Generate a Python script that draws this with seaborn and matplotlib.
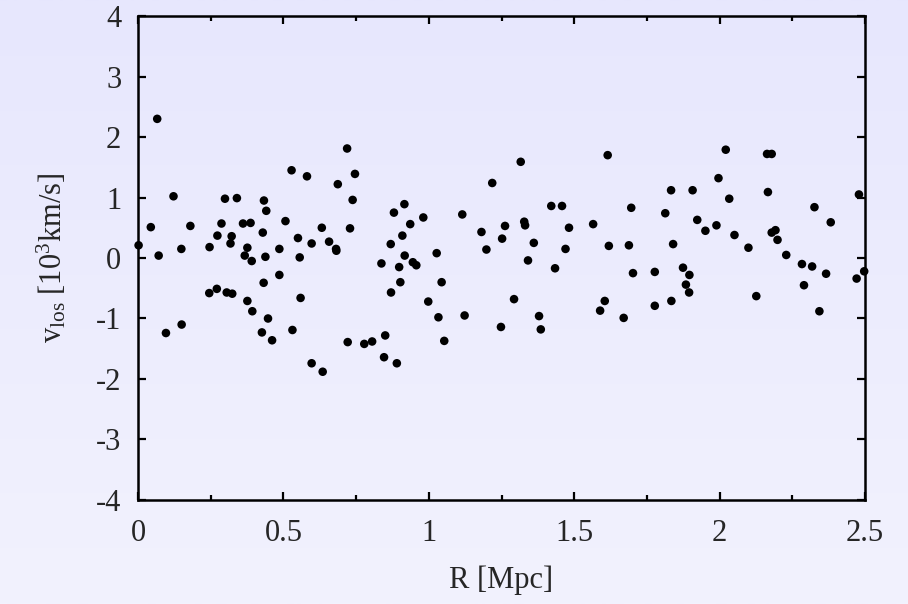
import numpy as np
import pandas as pd
import matplotlib
matplotlib.use("Agg")
import matplotlib.pyplot as plt
import seaborn as sns

# Projected radius [Mpc] and line-of-sight velocity [10^3 km/s] of member galaxies
radius = [
    0.066, 0.044, 0.002, 0.071, 0.122, 0.096, 0.150, 0.149, 0.180, 0.246,
    0.273, 0.287, 0.299, 0.340, 0.322, 0.318, 0.245, 0.271, 0.305, 0.324,
    0.361, 0.387, 0.376, 0.367, 0.391, 0.376, 0.393, 0.433, 0.441, 0.429,
    0.438, 0.432, 0.447, 0.426, 0.461, 0.486, 0.486, 0.507, 0.528, 0.581,
    0.550, 0.556, 0.597, 0.559, 0.531, 0.597, 0.632, 0.635, 0.719, 0.746,
    0.687, 0.738, 0.657, 0.681, 0.682, 0.729, 0.721, 0.778, 0.805, 0.850,
    0.846, 0.890, 0.880, 0.916, 0.981, 0.936, 0.909, 0.869, 0.917, 0.837,
    0.898, 0.945, 0.957, 0.902, 0.870, 1.027, 1.044, 0.998, 1.033, 1.123,
    1.053, 1.115, 1.218, 1.181, 1.198, 1.316, 1.615, 1.833, 1.421, 1.458,
    1.696, 1.813, 1.262, 1.328, 1.331, 1.482, 1.565, 1.252, 1.361, 1.470,
    1.619, 1.688, 1.840, 1.341, 1.434, 1.702, 1.777, 1.293, 1.379, 1.248,
    1.385, 1.605, 1.589, 1.670, 1.777, 1.834, 1.907, 2.021, 1.996, 2.033,
    2.163, 2.179, 2.166, 1.923, 1.951, 1.989, 2.051, 2.099, 2.179, 2.192,
    2.199, 2.229, 2.326, 2.382, 2.479, 2.283, 2.318, 2.366, 2.290, 2.343,
    2.471, 2.497, 2.126, 1.874, 1.896, 1.884, 1.895,
]
velocity = [
    2.30, 0.51, 0.21, 0.04, 1.02, -1.24, -1.10, 0.15, 0.53, 0.18,
    0.37, 0.57, 0.98, 0.99, 0.36, 0.24, -0.58, -0.51, -0.57, -0.59,
    0.57, 0.58, 0.17, 0.04, -0.05, -0.71, -0.88, 0.95, 0.78, 0.42,
    0.02, -0.41, -1.00, -1.23, -1.36, 0.15, -0.28, 0.61, 1.45, 1.35,
    0.33, 0.01, 0.24, -0.66, -1.19, -1.74, 0.50, -1.88, 1.81, 1.39,
    1.22, 0.96, 0.27, 0.15, 0.12, 0.49, -1.39, -1.42, -1.38, -1.28,
    -1.64, -1.74, 0.75, 0.89, 0.67, 0.56, 0.37, 0.23, 0.04, -0.09,
    -0.15, -0.07, -0.12, -0.40, -0.57, 0.08, -0.40, -0.72, -0.98, -0.95,
    -1.37, 0.72, 1.24, 0.43, 0.14, 1.59, 1.70, 1.12, 0.86, 0.86,
    0.83, 0.74, 0.53, 0.60, 0.54, 0.50, 0.56, 0.32, 0.25, 0.15,
    0.20, 0.21, 0.23, -0.04, -0.17, -0.25, -0.23, -0.68, -0.96, -1.14,
    -1.18, -0.71, -0.87, -0.99, -0.79, -0.71, 1.12, 1.79, 1.32, 0.98,
    1.72, 1.72, 1.09, 0.63, 0.45, 0.54, 0.38, 0.17, 0.42, 0.46,
    0.30, 0.05, 0.84, 0.59, 1.05, -0.10, -0.14, -0.26, -0.45, -0.88,
    -0.34, -0.22, -0.63, -0.16, -0.28, -0.44, -0.57,
]

x_ticks = [0, 0.5, 1, 1.5, 2, 2.5]
x_tick_labels = ["0", "0.5", "1", "1.5", "2", "2.5"]
y_ticks = [-4, -3, -2, -1, 0, 1, 2, 3, 4]

df = pd.DataFrame({"R": radius, "v": velocity})

sns.set_style("ticks")
plt.rcParams["font.family"] = ["Liberation Serif", "DejaVu Serif"]
plt.rcParams["mathtext.fontset"] = "custom"
plt.rcParams["mathtext.rm"] = "Liberation Serif"
plt.rcParams["mathtext.it"] = "Liberation Serif:italic"
plt.rcParams["axes.unicode_minus"] = False

fig = plt.figure(figsize=(9.08, 6.04), dpi=100)

# soft lavender vertical gradient behind everything
bg = fig.add_axes([0, 0, 1, 1])
bg.set_zorder(-1)
top = np.array([231, 231, 253]) / 255
bottom = np.array([242, 242, 254]) / 255
t = np.linspace(0, 1, 256)[:, None]
grad = top[None, :] * (1 - t) + bottom[None, :] * t
bg.imshow(grad[:, None, :], aspect="auto", extent=[0, 1, 0, 1],
          interpolation="bilinear")
bg.axis("off")

ax = fig.add_axes([0.152, 0.1722, 0.8007, 0.8013])
ax.set_facecolor("none")

sns.scatterplot(data=df, x="R", y="v", ax=ax, color="black", s=38,
                linewidth=0, edgecolor="none", legend=False, zorder=3,
                clip_on=False)

ax.set_xlim(0, 2.5)
ax.set_ylim(-4, 4)
ax.set_xticks(x_ticks)
ax.set_xticklabels(x_tick_labels)
ax.set_xticks(np.arange(0.25, 2.5, 0.5), minor=True)
ax.set_yticks(y_ticks)

ax.tick_params(which="both", direction="in", top=True, right=True,
               labelsize=22, width=1.6, color="black")
ax.tick_params(which="major", length=6)
ax.tick_params(which="minor", length=3.5)
ax.tick_params(axis="x", pad=14)
ax.tick_params(axis="y", pad=12)

for side in ax.spines.values():
    side.set_linewidth(1.8)
    side.set_color("black")

ax.set_xlabel("R [Mpc]", fontsize=22, labelpad=12)
ax.set_ylabel(r"v$_{\mathrm{los}}$ [10$^{3}$km/s]", fontsize=22, labelpad=20)

fig.savefig("out.png", dpi=100)
